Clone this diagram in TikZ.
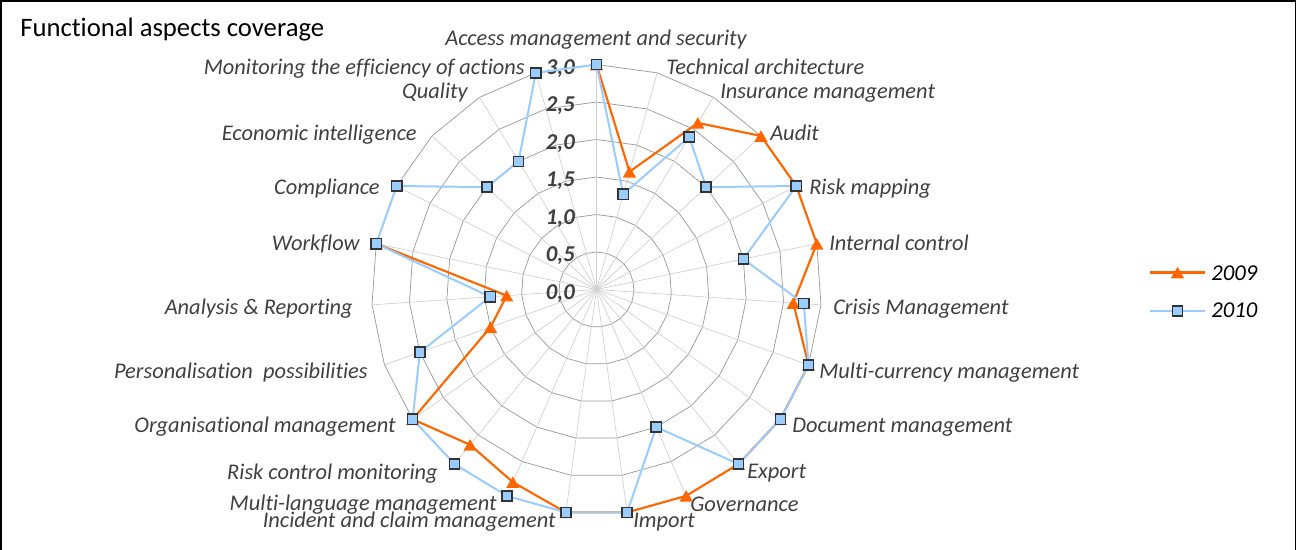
\documentclass[tikz,border=0pt]{standalone}
\usepackage{fontspec}
\setmainfont{Carlito}[Ligatures=CommonOff]
\usetikzlibrary{shapes.geometric}
\definecolor{orange09}{HTML}{FF6600}
\definecolor{blue10}{HTML}{99CCFF}
\definecolor{labelgray}{HTML}{404040}
\definecolor{ringgray}{HTML}{9A9A9A}
\definecolor{spokegray}{HTML}{CFCFCF}
\begin{document}
\begin{tikzpicture}[x=0.75pt,y=-0.75pt,
  catlabel/.style={font=\fontsize{16.8}{19}\selectfont\itshape, text=labelgray, inner sep=0pt},
  ticklabel/.style={font=\fontsize{17}{19}\selectfont\bfseries\itshape, text=labelgray, anchor=base east, inner sep=0pt},
  legendtext/.style={font=\fontsize{17}{19}\selectfont\itshape, text=black, anchor=base west, inner sep=0pt},
  ringline/.style={ringgray, line width=0.55pt},
  spokeline/.style={spokegray, line width=0.5pt},
  line09/.style={orange09, line width=1.6pt, line join=round},
  line10/.style={blue10, line width=1.5pt, line join=round},
  mark09/.style={regular polygon, regular polygon sides=3, fill=orange09, inner sep=0pt, minimum size=11.5pt, yshift=-1.5pt},
  mark10/.style={rectangle, fill=blue10, draw=black!80, line width=1.1pt, minimum size=7.6pt, inner sep=0pt},
]
\useasboundingbox (0,0) rectangle (1297,550);
% Chart frame (open at the bottom)
\draw[line width=1.1pt] (1,550) -- (1,1) -- (1295.5,1) -- (1295.5,550);
\node[anchor=base west, inner sep=0pt, font=\fontsize{20}{23}\selectfont] (title) at (20,36) {Functional aspects coverage};

% Radar grid: 23 axes, rings every 0.5
\coordinate (ctr) at (596.5,289.5);
\foreach \k in {0.5,1.0,...,3.0} {
  \draw[ringline] (596.5,{289.5-75*\k}) \foreach \i in {1,...,22} { -- ({596.5+75*\k*sin(\i*360/23)},{289.5-75*\k*cos(\i*360/23)}) } -- cycle;
}
\foreach \i in {0,...,22} {
  \coordinate (axis-\i) at ({596.5+225*sin(\i*360/23)},{289.5-225*cos(\i*360/23)});
  \draw[spokeline] (ctr) -- (axis-\i);
}

% Scale values
\node[ticklabel] (tick0) at (575,299.0) {0,0};
\node[ticklabel] (tick1) at (575,261.5) {0,5};
\node[ticklabel] (tick2) at (575,224.0) {1,0};
\node[ticklabel] (tick3) at (575,186.5) {1,5};
\node[ticklabel] (tick4) at (575,149.0) {2,0};
\node[ticklabel] (tick5) at (575,111.5) {2,5};
\node[ticklabel] (tick6) at (575,74.0) {3,0};

% Category labels
\node[catlabel, anchor=base] (c0) at (596,45) {Access management and security};
\node[catlabel, anchor=base west] (c1) at (666,74) {Technical architecture};
\node[catlabel, anchor=base west] (c2) at (720,98) {Insurance management};
\node[catlabel, anchor=base west] (c3) at (770,140) {Audit};
\node[catlabel, anchor=base west] (c4) at (809,194) {Risk mapping};
\node[catlabel, anchor=base west] (c5) at (829,250) {Internal control};
\node[catlabel, anchor=base west] (c6) at (833,314) {Crisis Management};
\node[catlabel, anchor=base west] (c7) at (819,378) {Multi-currency management};
\node[catlabel, anchor=base west] (c8) at (792,432) {Document management};
\node[catlabel, anchor=base west] (c9) at (747,478) {Export};
\node[catlabel, anchor=base west] (c10) at (690,511) {Governance};
\node[catlabel, anchor=base west] (c11) at (633,527) {Import};
\node[catlabel, anchor=base east] (c12) at (556,527) {Incident and claim management};
\node[catlabel, anchor=base east] (c13) at (497,510) {Multi-language management};
\node[catlabel, anchor=base east] (c14) at (438,479) {Risk control monitoring};
\node[catlabel, anchor=base east] (c15) at (396,432) {Organisational management};
\node[catlabel, anchor=base east] (c16) at (368,378) {Personalisation~ possibilities};
\node[catlabel, anchor=base east] (c17) at (353,314) {Analysis \& Reporting};
\node[catlabel, anchor=base east] (c18) at (360,250) {Workflow};
\node[catlabel, anchor=base east] (c19) at (380,194) {Compliance};
\node[catlabel, anchor=base east] (c20) at (417,140) {Economic intelligence};
\node[catlabel, anchor=base east] (c21) at (468,98) {Quality};
\node[catlabel, anchor=base east] (c22) at (525,74) {Monitoring the efficiency of actions};

% Series 2009 (no values for the last four axes)
\foreach \v [count=\i from 0] in {3.0,1.63,2.6,3.0,3.0,3.0,2.63,3.0,3.0,3.0,3.0,3.0,3.0,2.8,2.67,3.0,1.5,1.2,3.0}
  \coordinate (p09-\i) at ({596.5+75*\v*sin(\i*360/23)},{289.5-75*\v*cos(\i*360/23)});
\draw[line09] (p09-0) \foreach \i in {1,...,18} { -- (p09-\i) };
\foreach \i in {0,...,18}
  \node[mark09] (m09-\i) at (p09-\i) {};

% Series 2010
\foreach \v [count=\i from 0] in {3.0,1.32,2.38,2.0,3.0,2.0,2.77,3.0,3.0,3.0,2.0,3.0,3.0,3.0,3.0,3.0,2.5,1.42,3.0,3.0,2.0,2.0,3.0}
  \coordinate (p10-\i) at ({596.5+75*\v*sin(\i*360/23)},{289.5-75*\v*cos(\i*360/23)});
\draw[line10] (p10-0) \foreach \i in {1,...,22} { -- (p10-\i) } -- cycle;
\foreach \i in {0,...,22}
  \node[mark10] (m10-\i) at (p10-\i) {};

% Legend
\coordinate (leg09a) at (1150,272.5);
\coordinate (leg09b) at (1205,272.5);
\draw[line09] (leg09a) -- (leg09b);
\node[mark09] (legm09) at (1177.5,272.5) {};
\node[legendtext] (leg09) at (1211,280) {2009};
\coordinate (leg10a) at (1150,311);
\coordinate (leg10b) at (1205,311);
\draw[line10] (leg10a) -- (leg10b);
\node[mark10] (legm10) at (1177.5,311) {};
\node[legendtext] (leg10) at (1211,317.5) {2010};
\end{tikzpicture}
\end{document}
